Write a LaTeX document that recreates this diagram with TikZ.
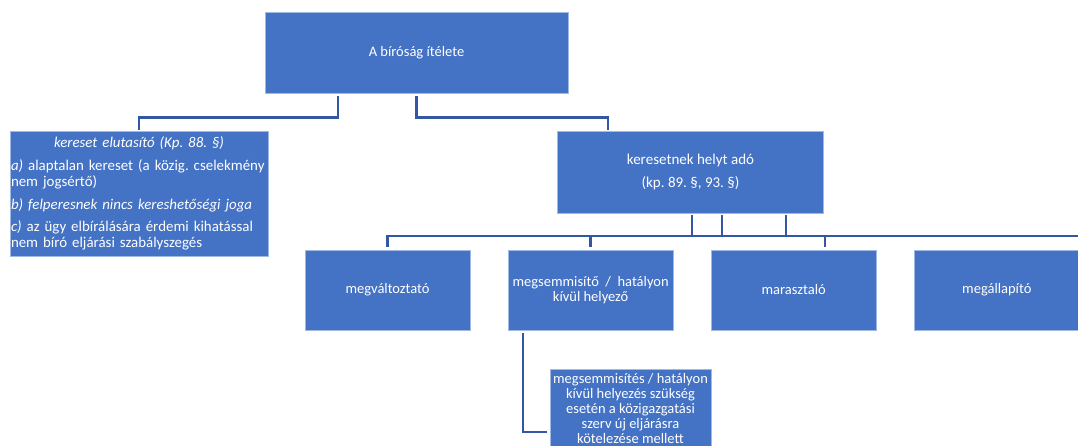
\documentclass[tikz,border=0pt]{standalone}
\usepackage{fontspec}
\setmainfont{Carlito}
\usepackage{tikz}
\usetikzlibrary{positioning}
\definecolor{boxblue}{RGB}{68,114,196}
\definecolor{boxedge}{RGB}{160,186,228}
\definecolor{linkblue}{RGB}{50,88,163}
\frenchspacing
\newcommand{\boxfont}{\fontsize{14.5}{15.3}\selectfont}
\newcommand{\bigboxfont}{\fontsize{14.9}{15.8}\selectfont}
\tikzstyle{block} = [rectangle, draw=boxedge, line width=0.6pt, fill=boxblue,
    text=white, font=\boxfont, inner sep=2pt]
\tikzstyle{choice} = [block, minimum width=165pt, minimum height=80pt]
\tikzstyle{line} = [draw=linkblue, line width=2.4pt]

\begin{document}
\begin{tikzpicture}[node distance = 37.5pt, auto]
      \useasboundingbox (0,0) rectangle (1078pt,-445pt);
      % Judgement
      \node [block, minimum width=303pt, minimum height=81pt] (root) at (416.5pt,-52.5pt) {A bíróság ítélete};
      \node [block, font=\bigboxfont, text width=256pt, inner xsep=1pt, minimum height=125pt] (reject) at (139pt,-193.5pt) {{\centering\itshape kereset elutasító (Kp. 88.~§)\par}
        \vspace{7pt}\raggedright
        \textit{a)} alaptalan kereset (a közig. cselekmény\\ nem jogsértő)\par
        \vspace{7pt}
        \textit{b) felperesnek nincs kereshetőségi joga}\par
        \vspace{7pt}
        \textit{c)} az ügy elbírálására érdemi kihatással\\ nem bíró eljárási szabályszegés};
      \node [block, font=\fontsize{15}{15.5}\selectfont, align=center, minimum width=266pt, minimum height=82pt] (accept) at (690.5pt,-172pt) {keresetnek helyt adó\\[8pt] (kp. 89.~§, 93.~§)};
      % Types
      \node [choice] (change) at (387.5pt,-290pt) {megváltoztató};
      \node [choice, align=center, right=of change] (annul) {megsemmisítő~~/~~hatályon\\ kívül helyező};
      \node [choice, right=of annul] (condemn) {marasztaló};
      \node [choice, right=of condemn] (declare) {megállapító};
      \node [block, font=\fontsize{14.5}{15}\selectfont, align=center, minimum width=161pt, minimum height=79pt, inner xsep=0pt, inner ysep=1.5pt, anchor=north] (renew) at (630.5pt,-368.5pt) {megsemmisítés / hatályon\\ kívül helyezés szükség\\ esetén a közigazgatási\\ szerv új eljárásra\\ kötelezése mellett};
      \coordinate (busend) at (1078pt,-236pt);
      % Draw edges
      \path [line, shorten <=3pt, shorten >=1pt] ([xshift=-78.5pt]root.south) -- ++(0,-24pt) -| (reject.north);
      \path [line, shorten <=3pt, shorten >=1pt] (root.south) -- ++(0,-24pt) -| ([xshift=-82.5pt]accept.north);
      \foreach \dx in {1.5,31.5,95.5}
        \path [line, shorten <=2pt] ([xshift=\dx pt]accept.south) -- +(0,-23pt);
      \path [line] ([yshift=3pt]change.north) |- (busend);
      \path [line, shorten >=3pt] ([yshift=14pt]annul.north) -- (annul.north);
      \path [line, shorten >=3pt] ([xshift=31.5pt,yshift=14pt]condemn.north) -- ([xshift=31.5pt]condemn.north);
      \path [line, shorten <=3pt, shorten >=3pt] ([xshift=15pt]annul.south west) |- ([yshift=-63.5pt]renew.north west);
    \end{tikzpicture}
\end{document}
